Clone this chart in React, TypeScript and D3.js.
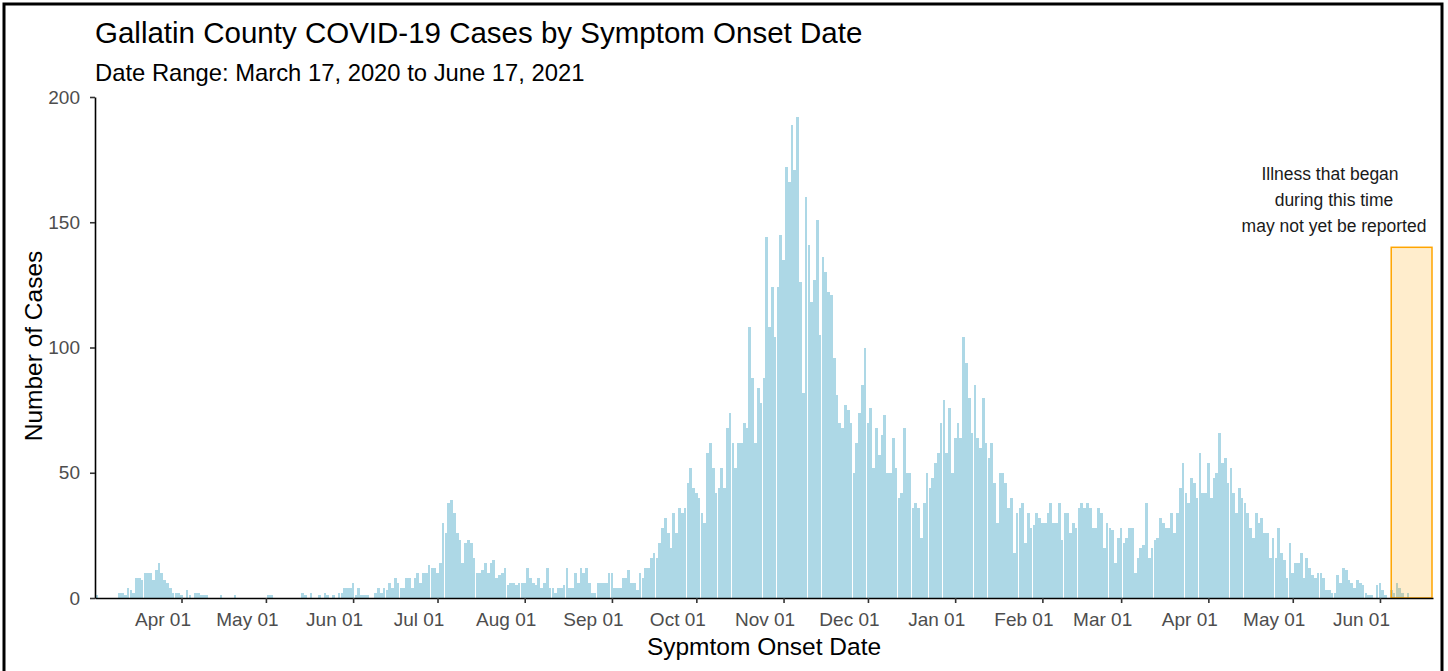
import React, { useEffect, useRef } from "react";
import * as d3 from "d3";

// daily case counts, first value of each array = 1st day of that month
const mar2020 = [0, 1, 0, 0, 0, 0, 0, 0, 0, 2, 2, 1, 4, 3, 2, 8, 8, 7, 10, 10, 10, 7, 11, 14, 10, 7, 6, 4, 2, 2, 2];
const apr2020 = [1, 0, 3, 1, 0, 2, 2, 1, 1, 1, 0, 0, 0, 0, 1, 0, 0, 0, 0, 1, 0, 0, 0, 0, 0, 0, 0, 0, 0, 0];
const may2020 = [0, 1, 1, 0, 0, 0, 0, 0, 0, 0, 0, 0, 0, 2, 1, 0, 2, 0, 0, 1, 0, 2, 1, 0, 1, 0, 2, 2, 4, 4, 4];
const jun2020 = [6, 1, 4, 1, 1, 1, 0, 0, 2, 4, 2, 4, 3, 6, 4, 8, 6, 4, 4, 8, 8, 4, 8, 10, 6, 10, 10, 13, 12, 12];
const jul2020 = [10, 14, 30, 26, 38, 39, 34, 26, 23, 14, 22, 23, 22, 16, 10, 10, 11, 14, 10, 14, 15, 8, 9, 10, 12, 5, 6, 6, 5, 6, 6];
const aug2020 = [6, 12, 8, 6, 5, 8, 4, 6, 12, 4, 4, 2, 4, 4, 5, 12, 4, 4, 10, 6, 12, 10, 12, 6, 2, 2, 6, 6, 6, 6, 10];
const sep2020 = [10, 4, 4, 4, 8, 8, 11, 6, 6, 3, 10, 8, 12, 12, 16, 18, 16, 22, 28, 32, 26, 20, 34, 26, 36, 34, 36, 46, 52, 44];
const oct2020 = [42, 40, 34, 30, 58, 62, 52, 42, 44, 52, 44, 68, 74, 62, 52, 62, 62, 70, 68, 108, 88, 62, 84, 78, 88, 144, 108, 124, 104, 124, 145];
const nov2020 = [135, 172, 166, 189, 171, 192, 126, 82, 160, 141, 118, 127, 151, 105, 136, 130, 122, 121, 96, 81, 70, 68, 77, 75, 70, 50, 62, 74, 85, 100];
const dec2020 = [70, 76, 52, 68, 57, 65, 73, 50, 50, 64, 52, 40, 42, 68, 50, 50, 36, 38, 36, 24, 38, 50, 44, 48, 54, 58, 70, 79, 58, 76, 50];
const jan2021 = [64, 70, 64, 104, 94, 80, 66, 85, 64, 60, 80, 62, 56, 62, 46, 30, 50, 50, 46, 36, 40, 18, 34, 36, 38, 22, 34, 28, 29, 34, 32];
const feb2021 = [30, 30, 34, 38, 30, 30, 38, 23, 34, 34, 26, 30, 28, 36, 38, 36, 38, 36, 28, 28, 36, 34, 20, 30, 28, 27, 14, 24];
const mar2021 = [28, 22, 24, 28, 28, 10, 16, 20, 21, 38, 16, 20, 23, 24, 32, 30, 28, 28, 34, 26, 34, 44, 54, 42, 38, 48, 46, 40, 58, 42, 42];
const apr2021 = [54, 40, 48, 50, 66, 54, 56, 46, 52, 42, 34, 44, 40, 38, 34, 28, 24, 34, 30, 32, 26, 26, 16, 24, 16, 28, 18, 15, 8, 22];
const may2021 = [10, 14, 14, 18, 8, 16, 12, 9, 8, 10, 10, 8, 3, 3, 2, 2, 9, 6, 12, 11, 7, 6, 4, 7, 6, 5, 2, 1, 1, 0, 5];
const jun2021 = [6, 3, 1, 0, 3, 2, 6, 4, 2, 0, 2, 0, 0, 0, 0, 0, 0];

const monthData: [number, number, number[]][] = [
  [2020, 2, mar2020], [2020, 3, apr2020], [2020, 4, may2020], [2020, 5, jun2020],
  [2020, 6, jul2020], [2020, 7, aug2020], [2020, 8, sep2020], [2020, 9, oct2020],
  [2020, 10, nov2020], [2020, 11, dec2020], [2021, 0, jan2021], [2021, 1, feb2021],
  [2021, 2, mar2021], [2021, 3, apr2021], [2021, 4, may2021], [2021, 5, jun2021],
];

const yTicks = [0, 50, 100, 150, 200];
const noteLines = ["Illness that began", "during this time", "may not yet be reported"];
const title = "Gallatin County COVID-19 Cases by Symptom Onset Date";
const subtitle = "Date Range: March 17, 2020 to June 17, 2021";

const W = 1448;
const H = 671;
const FONT = "'Liberation Sans', Arial, sans-serif";
const DAY = 864e5;

export default function App() {
  const svgRef = useRef<SVGSVGElement>(null);

  useEffect(() => {
    const svg = d3.select(svgRef.current);
    svg.selectAll("*").remove();

    const data = monthData.flatMap(([yr, mo, vals]) =>
      vals.map((v, i) => ({ date: new Date(Date.UTC(yr, mo, i + 1)), value: v }))
    );

    const left = 95, right = 1433, top = 97, bottom = 598;

    const x = d3
      .scaleUtc()
      .domain([
        new Date(Date.UTC(2020, 3, 1) - 30.75 * DAY),
        new Date(Date.UTC(2021, 5, 1) + 18.85 * DAY),
      ])
      .range([left, right]);
    const y = d3.scaleLinear().domain([0, 200]).range([bottom, top]);

    const dayPx = x(new Date(Date.UTC(2020, 5, 2))) - x(new Date(Date.UTC(2020, 5, 1)));
    const bw = dayPx * 0.955;

    // frame
    svg
      .append("rect")
      .attr("x", 4)
      .attr("y", 4)
      .attr("width", 1438)
      .attr("height", 700)
      .attr("fill", "none")
      .attr("stroke", "#000")
      .attr("stroke-width", 3);

    // bars
    svg
      .append("g")
      .selectAll("rect")
      .data(data.filter((d) => d.value > 0))
      .enter()
      .append("rect")
      .attr("x", (d) => x(d.date) - bw / 2)
      .attr("y", (d) => y(d.value))
      .attr("width", bw)
      .attr("height", (d) => bottom - y(d.value))
      .attr("fill", "#ADD8E6")
      .attr("shape-rendering", "crispEdges");

    // reporting-lag box
    const boxStart = x(new Date(Date.UTC(2021, 5, 5)));
    svg
      .append("rect")
      .attr("x", boxStart)
      .attr("y", y(140))
      .attr("width", right - 1 - boxStart)
      .attr("height", bottom - y(140))
      .attr("fill", "orange")
      .attr("fill-opacity", 0.2)
      .attr("stroke", "orange")
      .attr("stroke-width", 1.5);

    const note = svg
      .append("text")
      .attr("text-anchor", "middle")
      .style("font-family", FONT)
      .style("font-size", "17.5px")
      .attr("fill", "#1a1a1a");
    noteLines.forEach((t, i) => {
      note.append("tspan").attr("x", i === 0 ? 1330 : 1334).attr("y", 180 + i * 26).text(t);
    });

    // axes
    const monthTicks = d3.utcMonth.range(new Date(Date.UTC(2020, 3, 1)), new Date(Date.UTC(2021, 5, 2)));
    const xAxis = svg
      .append("g")
      .attr("transform", `translate(0,${bottom})`)
      .call(
        d3
          .axisBottom(x)
          .tickValues(monthTicks)
          .tickFormat((d) => d3.utcFormat("%b %d")(d as Date))
          .tickSize(5)
          .tickSizeOuter(0)
          .tickPadding(10)
      );
    xAxis.selectAll("text").attr("dx", -19);

    const yAxis = svg
      .append("g")
      .attr("transform", `translate(${left},0)`)
      .call(d3.axisLeft(y).tickValues(yTicks).tickSize(5).tickSizeOuter(0).tickPadding(10));

    [xAxis, yAxis].forEach((ax) => {
      ax.select(".domain").attr("stroke", "#000").attr("stroke-width", 1.6);
      ax.selectAll(".tick line").attr("stroke", "#333").attr("stroke-width", 1.6);
      ax.selectAll(".tick text")
        .attr("fill", "#4D4D4D")
        .style("font-family", FONT)
        .style("font-size", "19px");
    });

    // titles
    svg
      .append("text")
      .attr("x", 95)
      .attr("y", 43)
      .style("font-family", FONT)
      .style("font-size", "29.5px")
      .attr("fill", "#000")
      .text(title);

    svg
      .append("text")
      .attr("x", 95)
      .attr("y", 81)
      .style("font-family", FONT)
      .style("font-size", "23.8px")
      .attr("fill", "#000")
      .text(subtitle);

    svg
      .append("text")
      .attr("x", 764)
      .attr("y", 655)
      .attr("text-anchor", "middle")
      .style("font-family", FONT)
      .style("font-size", "24.5px")
      .attr("fill", "#000")
      .text("Sypmtom Onset Date");

    svg
      .append("text")
      .attr("transform", "translate(42,346) rotate(-90)")
      .attr("text-anchor", "middle")
      .style("font-family", FONT)
      .style("font-size", "24.5px")
      .attr("fill", "#000")
      .text("Number of Cases");
  }, []);

  return (
    <svg
      ref={svgRef}
      width={W}
      height={H}
      style={{ position: "absolute", left: 0, top: 0, background: "#fff" }}
    ></svg>
  );
}
